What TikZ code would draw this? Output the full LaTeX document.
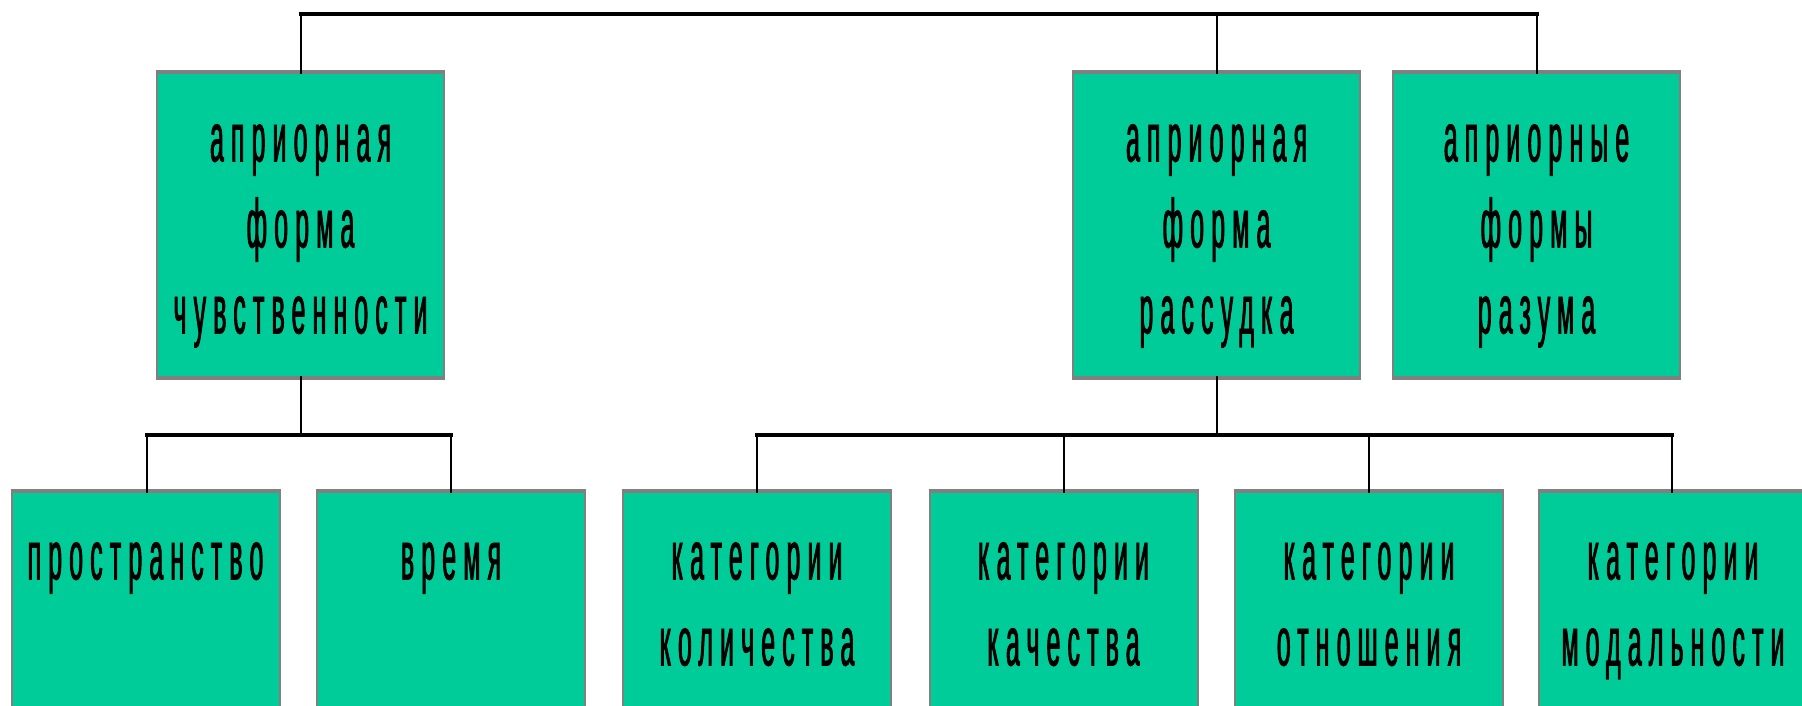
\documentclass[tikz,border=0pt]{standalone}
\usepackage{fontspec}
\newfontfamily\boxfont[FakeStretch=0.36,LetterSpace=10.4,BoldFont={Liberation Sans},BoldFeatures={FakeBold=1.2}]{Liberation Sans}
\definecolor{boxgreen}{RGB}{0,204,153}
\definecolor{boxgray}{RGB}{128,128,128}
\tikzset{
  topbox/.style={rectangle, inner sep=0pt, fill=boxgreen, draw=boxgray, line width=2pt, minimum width=287pt, minimum height=304pt},
  lowbox/.style={rectangle, inner sep=0pt, fill=boxgreen, draw=boxgray, line width=2pt, minimum width=268pt, minimum height=304pt},
  edge/.style={draw=boxgray, line width=4pt},
  boxtext/.style={anchor=north, inner sep=0pt, align=center, font=\boxfont\bfseries\fontsize{69}{86}\selectfont},
  stem/.style={draw=black, line width=2pt},
  bus/.style={draw=black, line width=4pt, line cap=rect},
}
\begin{document}
\begin{tikzpicture}[x=1pt,y=-1pt]
\useasboundingbox (0,0) rectangle (1802,706);
\clip (0,0) rectangle (1802,706);
\fill[white] (0,0) rectangle (1802,706);

% boxes
\node[topbox] (t1) at (300.5,225) {};
\node[topbox] (t2) at (1216.5,225) {};
\node[topbox] (t3) at (1536.5,225) {};
\node[lowbox] (b1) at (145.5,644) {};
\node[lowbox] (b2) at (451,644) {};
\node[lowbox] (b3) at (757,644) {};
\node[lowbox] (b4) at (1063.5,644) {};
\node[lowbox] (b5) at (1369,644) {};
\node[lowbox] (b6) at (1673,644) {};

\foreach \b in {t1,t2,t3,b1,b2,b3,b4,b5,b6}{
  \draw[edge] (\b.north west) -- (\b.north east);
  \draw[edge] (\b.south west) -- (\b.south east);
}

% texts
\node[boxtext] (t1t) at ([yshift=-29pt]t1.north) {\strut априорная\\форма\\чувственности};
\node[boxtext] (t2t) at ([yshift=-29pt]t2.north) {\strut априорная\\форма\\рассудка};
\node[boxtext] (t3t) at ([yshift=-29pt]t3.north) {\strut априорные\\формы\\разума};
\node[boxtext] (b1t) at ([yshift=-28pt]b1.north) {\strut пространство};
\node[boxtext] (b2t) at ([yshift=-28pt]b2.north) {\strut время};
\node[boxtext] (b3t) at ([yshift=-28pt]b3.north) {\strut категории\\количества};
\node[boxtext] (b4t) at ([yshift=-28pt]b4.north) {\strut категории\\качества};
\node[boxtext] (b5t) at ([yshift=-28pt]b5.north) {\strut категории\\отношения};
\node[boxtext] (b6t) at ([yshift=-28pt]b6.north) {\strut категории\\модальности};

% connectors
\coordinate (busA) at (0,14.5);
\coordinate (busB) at (0,434.5);
\draw[stem] ([yshift=-2pt]t1.north) -- (t1.north |- busA);
\draw[stem] ([yshift=-2pt]t2.north) -- (t2.north |- busA);
\draw[stem] ([yshift=-2pt]t3.north) -- (t3.north |- busA);
\draw[bus] (t1.north |- busA) -- (t3.north |- busA);

\draw[stem] ([yshift=2pt]t1.south) -- (t1.south |- busB);
\draw[stem] ([xshift=1.5pt,yshift=-2pt]b1.north) -- ([xshift=1.5pt]b1.north |- busB);
\draw[stem] ([yshift=-2pt]b2.north) -- (b2.north |- busB);
\draw[bus] ([xshift=1.5pt]b1.north |- busB) -- (b2.north |- busB);

\draw[stem] ([yshift=2pt]t2.south) -- (t2.south |- busB);
\draw[stem] ([yshift=-2pt]b3.north) -- (b3.north |- busB);
\draw[stem] ([yshift=-2pt]b4.north) -- (b4.north |- busB);
\draw[stem] ([yshift=-2pt]b5.north) -- (b5.north |- busB);
\draw[stem] ([xshift=-1pt,yshift=-2pt]b6.north) -- ([xshift=-1pt]b6.north |- busB);
\draw[bus] (b3.north |- busB) -- ([xshift=-1pt]b6.north |- busB);
\end{tikzpicture}
\end{document}
